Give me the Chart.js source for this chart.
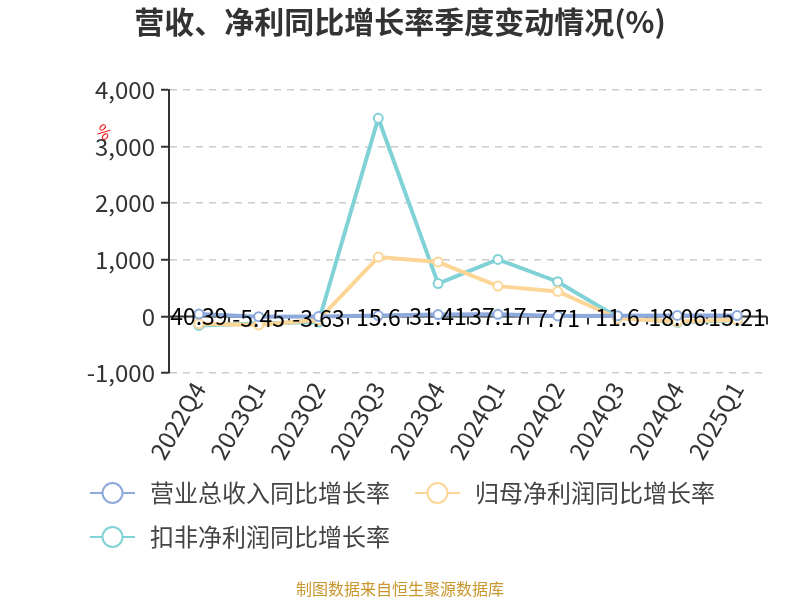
<!DOCTYPE html>
<html>
<head>
<meta charset="utf-8">
<script src="https://cdn.jsdelivr.net/npm/chart.js@4/dist/chart.umd.min.js"></script>
<style>
  html, body { margin: 0; padding: 0; background: #fff; }
  #wrap { width: 800px; height: 600px; }
</style>
</head>
<body>
<div id="wrap"><canvas id="chart" width="800" height="600"></canvas></div>
<script>
// Données
const quarters = ["2022Q4", "2023Q1", "2023Q2", "2023Q3", "2023Q4", "2024Q1", "2024Q2", "2024Q3", "2024Q4", "2025Q1"];
const revenueGrowth = [40.39, -5.45, -3.63, 15.6, 31.41, 37.17, 7.71, 11.6, 18.06, 15.21];
const netProfitGrowth = [-130, -150, -60, 1048, 960, 535, 442, -35, -90, -60];
const deductedProfitGrowth = [-160, -125, -100, 3500, 580, 1007, 613, -15, -105, -70];
const yTicks = [-1000, 0, 1000, 2000, 3000, 4000];

const seriesNames = ["营业总收入同比增长率", "归母净利润同比增长率", "扣非净利润同比增长率"];
const COLORS = ["#8eaadc", "#fdd697", "#80d2d6"];
const FONT = "'Noto Sans CJK SC', 'Noto Sans', sans-serif";

// Axe des x sur la ligne zéro, avec ses petites graduations
const zeroAxis = {
  id: "zeroAxis",
  beforeDatasetsDraw(chart) {
    const { ctx, chartArea, scales } = chart;
    const y0 = scales.y.getPixelForValue(0);
    const step = (chartArea.right - chartArea.left) / quarters.length;
    ctx.save();
    ctx.strokeStyle = "#333";
    ctx.lineWidth = 2;
    ctx.beginPath();
    ctx.moveTo(chartArea.left, y0);
    ctx.lineTo(chartArea.right, y0);
    for (let i = 1; i <= quarters.length; i++) {
      const x = Math.round(chartArea.left + i * step);
      ctx.moveTo(x, y0);
      ctx.lineTo(x, y0 + 8);
    }
    ctx.stroke();
    ctx.restore();
  }
};

// Valeurs de la première série écrites sur les points
const valueLabels = {
  id: "valueLabels",
  afterDatasetsDraw(chart) {
    const { ctx } = chart;
    const meta = chart.getDatasetMeta(0);
    ctx.save();
    ctx.font = "23px " + FONT;
    ctx.fillStyle = "#000";
    ctx.textAlign = "center";
    ctx.textBaseline = "middle";
    meta.data.forEach((pt, i) => {
      ctx.fillText(String(revenueGrowth[i]), pt.x, pt.y + 2);
    });
    ctx.restore();
  }
};

// Titre, unité, légende et source
const decorations = {
  id: "decorations",
  afterDraw(chart) {
    const { ctx } = chart;
    ctx.save();
    ctx.fillStyle = "#333";
    ctx.font = "bold 30px " + FONT;
    ctx.textAlign = "center";
    ctx.textBaseline = "middle";
    ctx.fillText("营收、净利同比增长率季度变动情况(%)", 400, 22);

    ctx.save();
    ctx.translate(104, 132);
    ctx.rotate(Math.PI / 4);
    ctx.fillStyle = "#e00";
    ctx.font = "16px " + FONT;
    ctx.fillText("%", 0, 0);
    ctx.restore();

    const items = [
      { x: 90, y: 493 },
      { x: 415, y: 493 },
      { x: 90, y: 537 }
    ];
    items.forEach((it, i) => {
      ctx.strokeStyle = COLORS[i];
      ctx.lineWidth = 2;
      ctx.beginPath();
      ctx.moveTo(it.x, it.y);
      ctx.lineTo(it.x + 45, it.y);
      ctx.stroke();
      ctx.beginPath();
      ctx.arc(it.x + 22.5, it.y, 10, 0, Math.PI * 2);
      ctx.fillStyle = "#fff";
      ctx.fill();
      ctx.stroke();
      ctx.fillStyle = "#444";
      ctx.font = "24px " + FONT;
      ctx.textAlign = "left";
      ctx.fillText(seriesNames[i], it.x + 60, it.y);
    });

    ctx.fillStyle = "#c9962c";
    ctx.font = "16px " + FONT;
    ctx.textAlign = "center";
    ctx.fillText("制图数据来自恒生聚源数据库", 400, 589);
    ctx.restore();
  }
};

function lineDataset(label, data, color) {
  return {
    label,
    data,
    borderColor: color,
    backgroundColor: "#fff",
    borderWidth: 4,
    pointRadius: 4.5,
    pointBorderWidth: 2,
    pointBackgroundColor: "#fff",
    pointBorderColor: color,
    tension: 0
  };
}

new Chart(document.getElementById("chart").getContext("2d"), {
  type: "line",
  data: {
    labels: quarters,
    datasets: [
      lineDataset(seriesNames[0], revenueGrowth, COLORS[0]),
      lineDataset(seriesNames[1], netProfitGrowth, COLORS[1]),
      lineDataset(seriesNames[2], deductedProfitGrowth, COLORS[2])
    ]
  },
  options: {
    responsive: false,
    animation: false,
    events: [],
    layout: { padding: { top: 90, right: 33, left: 0, bottom: 0 } },
    plugins: { legend: { display: false }, title: { display: false }, tooltip: { enabled: false } },
    scales: {
      x: {
        offset: true,
        grid: { display: false, drawTicks: false },
        border: { display: false },
        ticks: {
          color: "#333",
          font: { family: FONT, size: 24 },
          maxRotation: 60,
          minRotation: 60,
          padding: 4,
          autoSkip: false
        },
        afterFit(scale) { scale.height = 227; }
      },
      y: {
        min: yTicks[0],
        max: yTicks[yTicks.length - 1],
        afterBuildTicks(scale) { scale.ticks = yTicks.map(v => ({ value: v })); },
        grid: { color: "#ccc", lineWidth: 1.5, tickColor: "#333", tickLength: 8, tickWidth: 2 },
        border: { display: true, color: "#333", width: 2, dash: [7, 6] },
        ticks: { color: "#333", font: { family: FONT, size: 24 }, padding: 6 },
        afterFit(scale) { scale.width = 169; }
      }
    }
  },
  plugins: [zeroAxis, valueLabels, decorations]
});
</script>
</body>
</html>
